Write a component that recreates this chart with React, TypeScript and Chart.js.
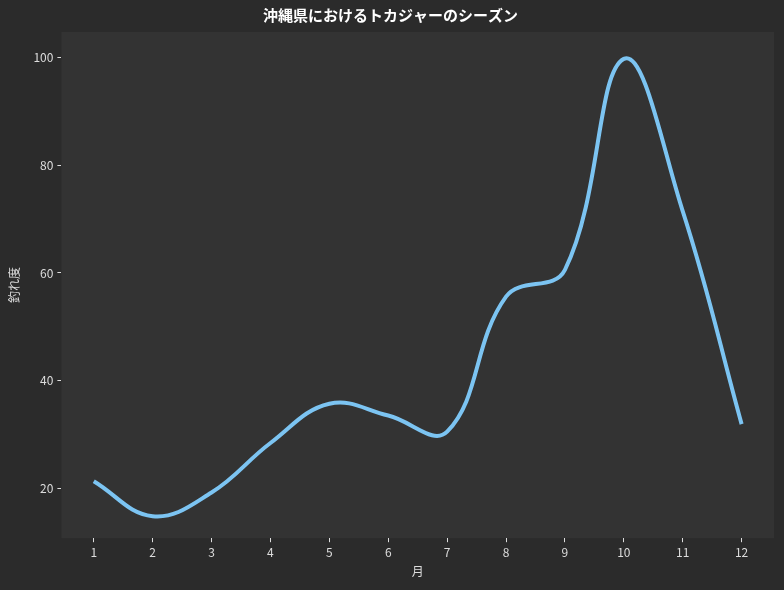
import React, { useEffect, useRef } from "react";
import { Chart, registerables } from "chart.js";

Chart.register(...registerables);

const months = [1, 2, 3, 4, 5, 6, 7, 8, 9, 10, 11, 12];
const catchIndex = [21.3, 14.8, 19.2, 28.4, 35.7, 33.5, 30.5, 55.6, 60.6, 99.8, 71.5, 31.9];
const yTicks = [20, 40, 60, 80, 100];

const FONT = "'Noto Sans CJK JP', 'Noto Sans', sans-serif";

const plotBg = {
  id: "plotBg",
  beforeDraw(chart: any) {
    const { ctx, chartArea } = chart;
    ctx.save();
    ctx.fillStyle = "#333333";
    ctx.fillRect(chartArea.left, chartArea.top, chartArea.right - chartArea.left, chartArea.bottom - chartArea.top);
    ctx.restore();
  },
};

export default function App() {
  const ref = useRef<HTMLCanvasElement>(null);
  useEffect(() => {
    document.body.style.margin = "0";
    document.body.style.background = "#2b2b2b";
    const chart = new Chart(ref.current!, {
      type: "line",
      data: {
        datasets: [
          {
            data: months.map((m, i) => ({ x: m, y: catchIndex[i] })),
            borderColor: "#7cc4f2",
            borderWidth: 4,
            pointRadius: 0,
            tension: 0.4,
            cubicInterpolationMode: "default",
            fill: false,
          },
        ],
      },
      options: {
        animation: false,
        responsive: false,
        maintainAspectRatio: false,
        layout: { padding: { left: 7, right: 10, top: 0, bottom: 11 } },
        plugins: {
          legend: { display: false },
          tooltip: { enabled: false },
          title: {
            display: true,
            text: "沖縄県におけるトカジャーのシーズン",
            color: "#ffffff",
            font: { family: FONT, size: 15, weight: "bold" },
            padding: { top: 6, bottom: 8 },
          },
        },
        scales: {
          x: {
            type: "linear",
            min: 0.45,
            max: 12.55,
            afterBuildTicks: (s: any) => {
              s.ticks = months.map((v) => ({ value: v }));
            },
            border: { display: false },
            grid: { drawOnChartArea: false, drawTicks: true, tickLength: 4, tickColor: "#dddddd", lineWidth: 1 },
            ticks: { color: "#dddddd", font: { family: FONT, size: 12 }, padding: 3, maxRotation: 0, autoSkip: false },
            title: { display: true, text: "月", color: "#dddddd", font: { family: FONT, size: 12 }, padding: { top: 2, bottom: 0 } },
          },
          y: {
            type: "linear",
            min: 10.7,
            max: 104.8,
            afterBuildTicks: (s: any) => {
              s.ticks = yTicks.map((v) => ({ value: v }));
            },
            border: { display: false },
            grid: { drawOnChartArea: false, drawTicks: true, tickLength: 4, tickColor: "#dddddd", lineWidth: 1 },
            ticks: { color: "#dddddd", font: { family: FONT, size: 12 }, padding: 4 },
            title: { display: true, text: "釣れ度", color: "#dddddd", font: { family: FONT, size: 12 }, padding: { top: 0, bottom: 8 } },
          },
        },
      },
      plugins: [plotBg],
    } as any);
    return () => chart.destroy();
  }, []);
  return (
    <div style={{ width: 784, height: 590, background: "#2b2b2b" }}>
      <canvas ref={ref} width={784} height={590} style={{ width: 784, height: 590, display: "block" }} />
    </div>
  );
}
